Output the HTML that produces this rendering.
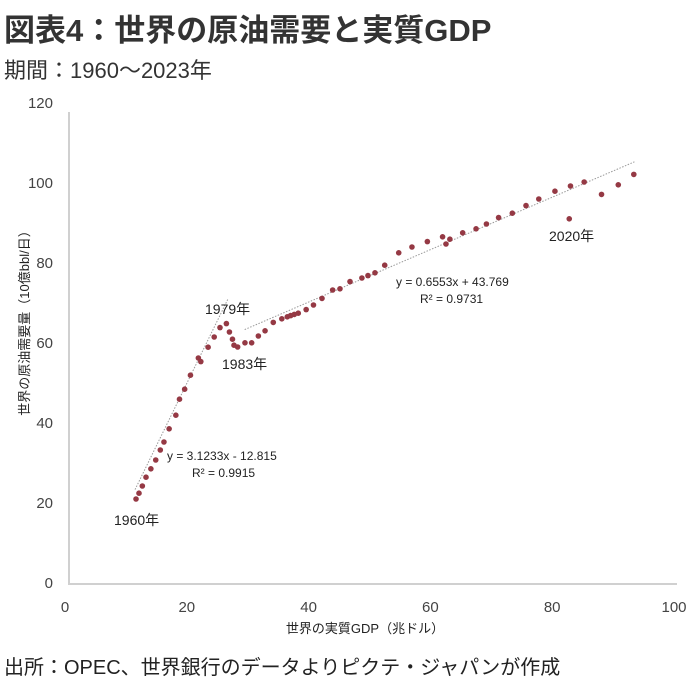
<!DOCTYPE html>
<html><head><meta charset="utf-8"><style>
html,body{margin:0;padding:0;background:#fff;}
body{width:691px;height:682px;overflow:hidden;position:relative;font-family:"Liberation Sans","Noto Sans CJK JP",sans-serif;}
.t{position:absolute;white-space:nowrap;color:#222;}
</style></head><body>
<div class="t" style="left:4px;top:5px;font-size:31px;font-weight:bold;color:#333;">図表4：世界の原油需要と実質GDP</div>
<div class="t" style="left:4px;top:53px;font-size:22px;color:#333;">期間：1960～2023年</div>
<div class="t" style="left:4px;top:651px;font-size:20px;color:#222;">出所：OPEC、世界銀行のデータよりピクテ・ジャパンが作成</div>
<svg id="chart" width="691" height="682" style="position:absolute;left:0;top:0;">
</svg>
<script>
const gdp=[11.66,12.15,12.7,13.3,14.1,14.9,15.65,16.25,17.1,18.2,18.8,19.65,20.6,21.9,22.3,23.5,24.5,25.45,26.5,27.0,27.5,27.75,28.35,29.55,30.65,31.75,32.85,34.2,35.6,36.5,37.05,37.65,38.3,39.6,40.8,42.2,43.95,45.15,46.8,48.75,49.75,50.9,52.5,54.8,56.97,59.5,62.0,62.56,63.2,65.3,67.5,69.2,71.2,73.45,75.7,77.8,80.45,83.0,85.25,82.8,88.1,90.85,93.4];
const oil=[20.75,22.2,24,26.2,28.3,30.5,33,35,38.3,41.7,45.7,48.2,51.7,56,55.1,58.7,61.25,63.6,64.6,62.5,60.7,59.2,58.75,59.8,59.8,61.5,62.8,64.9,65.8,66.3,66.6,66.9,67.2,68.1,69.25,70.9,73,73.3,75.1,76,76.6,77.3,79.2,82.3,83.75,85.1,86.3,84.5,85.7,87.3,88.3,89.5,91.1,92.2,94.1,95.75,97.7,99.0,100,90.8,96.9,99.3,101.9];
const xTicks=[0,20,40,60,80,100];
const yTicks=[0,20,40,60,80,100,120];
const trend1=[3.1233,-12.815,11.5,26.8];
const trend2=[0.6553,43.769,29.5,93.5];
const NS="http://www.w3.org/2000/svg";
const svg=document.getElementById('chart');
const X=v=>65+v*6.09, Y=v=>582-v*4.0;
function mk(tag,at){const e=document.createElementNS(NS,tag);for(const k in at)e.setAttribute(k,at[k]);svg.appendChild(e);return e;}
const ya=mk('line',{x1:69,y1:112,x2:69,y2:584,stroke:'#d0d0d0','stroke-width':2});


const xa=mk('line',{x1:68,y1:584,x2:677,y2:584,stroke:'#d0d0d0','stroke-width':2});


xTicks.forEach(v=>{const t=mk('text',{x:X(v),y:612,'text-anchor':'middle','font-size':15,fill:'#444','font-family':'Liberation Sans Narrow, Liberation Sans, sans-serif'});t.textContent=v;

});
yTicks.forEach(v=>{const t=mk('text',{x:53,y:Y(v)+6,'text-anchor':'end','font-size':15,fill:'#444','font-family':'Liberation Sans Narrow, Liberation Sans, sans-serif'});t.textContent=v;

});
[trend1,trend2].forEach(tr=>{const l=mk('line',{x1:X(tr[2]),y1:Y(tr[0]*tr[2]+tr[1]),x2:X(tr[3]),y2:Y(tr[0]*tr[3]+tr[1]),stroke:'#999','stroke-width':1,'stroke-dasharray':'1.5,1.5'});

});
gdp.forEach((g,i)=>{const c=mk('circle',{cx:X(g),cy:Y(oil[i]),r:2.8,fill:'#953944'});

});
function txt(s,x,y,fs,name,anchor,rot){const t=mk('text',{x:x,y:y,'font-size':fs,fill:'#222','text-anchor':anchor||'start','font-family':'Liberation Sans, Noto Sans CJK JP, sans-serif'});if(rot)t.setAttribute('transform',rot);t.textContent=s;

return t;}
txt('1979年',205,314,14,'label-1979');
txt('1983年',222,369,14,'label-1983');
txt('1960年',114,525,14,'label-1960');
txt('2020年',549,241,14,'label-2020');
txt('y = 3.1233x - 12.815',167,460,12,'trend-equation-1');
txt('R² = 0.9915',192,477,12,'trend-r2-1');
txt('y = 0.6553x + 43.769',396,286,12,'trend-equation-2');
txt('R² = 0.9731',420,303,12,'trend-r2-2');
txt('世界の実質GDP（兆ドル）',365,633,13,'x-axis-title','middle');
txt('世界の原油需要量（10億bbl/日）',0,0,13,'y-axis-title','middle','translate(29,320) rotate(-90)');
</script>
</body></html>
